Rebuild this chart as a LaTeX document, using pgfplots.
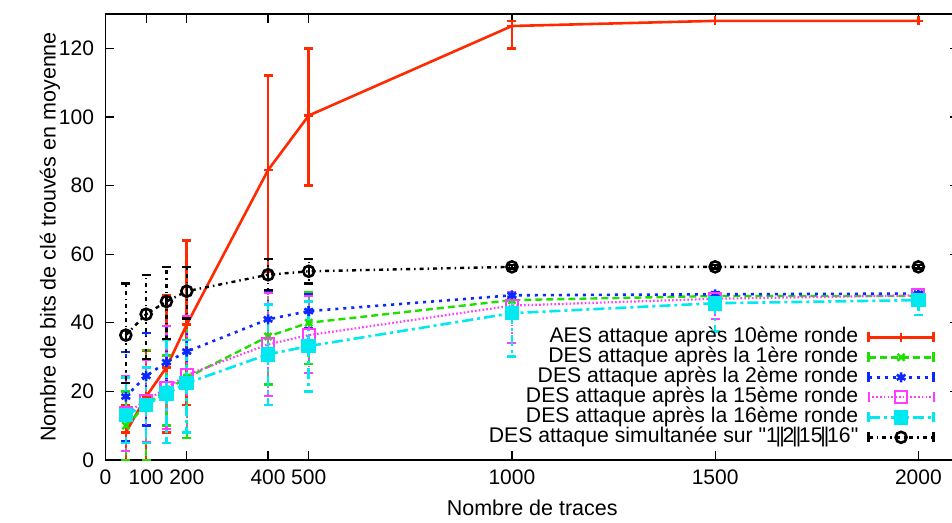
\documentclass[border=0pt]{standalone}
\usepackage{fontspec}
\setmainfont{Liberation Sans}
\newfontfamily\nomap{Liberation Sans}
\usepackage{pgfplots}
\pgfplotsset{compat=1.18}
\usepackage{pgfplotstable}

\definecolor{cRed}{HTML}{FF2A00}
\definecolor{cGreen}{HTML}{1EE000}
\definecolor{cBlue}{HTML}{0A28FF}
\definecolor{cMag}{HTML}{FF3CFF}
\definecolor{cCyan}{HTML}{00E8F0}

\pgfplotstableread{
x y ep em
50 8 8 8
100 18.5 13.5 18.5
150 27 21 19
200 39.5 24.5 23.5
400 84.5 27.5 29.5
500 100.4 19.6 20.4
1000 126.5 1.5 6.5
1500 128 0 0
2000 128 0 0
}\aes

\pgfplotstableread{
x y ep em
50 10 10 10
100 16 16 16
150 20.5 10 10.5
200 24 18 17.5
400 36 13 14
500 40 9 12
1000 46.6 2 3
1500 47.8 1 1
2000 47.8 1 1
}\desA

\pgfplotstableread{
x y ep em
50 18.5 13 13
100 24.5 12.5 14.5
150 28.5 10.5 11
200 31.6 10.4 10.6
400 41 8 9
500 43.4 5 5
1000 48 1 1
1500 48.3 0.5 0.5
2000 48.5 0.5 0.5
}\desB

\pgfplotstableread{
x y ep em
50 13.6 11 11
100 17.3 12 12
150 21 18 12
200 24.8 17 17
400 33.7 15 15
500 36.4 11.5 11
1000 45 4 11
1500 47 1.5 6
2000 48 1 1.5
}\desC

\pgfplotstableread{
x y ep em
50 13.1 11 8.2
100 16 11 11
150 19.4 15.6 14.5
200 22.4 12.6 14.4
400 30.8 14.5 14.8
500 33.2 13 13.3
1000 42.8 5 12.7
1500 45.7 2 8.3
2000 46.6 1.5 4.3
}\desD

\pgfplotstableread{
x y ep em
50 36.4 15 14
100 42.5 11.5 13
150 46.2 10 11
200 49.2 7 8
400 54 4.5 4.5
500 55 3.5 3.5
1000 56.3 0.5 0.5
1500 56.3 0.5 0.5
2000 56.3 0.5 0.5
}\sim

\newcommand{\pp}{\kern-2.3bp|\kern-1.8bp|\kern-2.3bp}

\begin{document}
\begin{tikzpicture}
\begin{axis}[
  scale only axis,
  width=853.5bp, height=446bp,
  xmin=0, xmax=2100, ymin=0, ymax=130,
  xtick={0,100,200,400,500,1000,1500,2000},
  ytick={0,20,40,60,80,100,120},
  tick align=inside,
  major tick length=9bp,
  axis line style={line width=1.6bp},
  every tick/.style={black, line width=1.2bp},
  /pgf/number format/assume math mode=true,
  /pgf/number format/set thousands separator={},
  tick label style={font=\fontsize{21bp}{25bp}\selectfont},
  xticklabel shift=6bp,
  yticklabel shift=8bp,
  label style={font=\fontsize{21.5bp}{25bp}\selectfont},
  xlabel style={yshift=-9bp},
  ylabel style={yshift=-8bp},
  xlabel={Nombre de traces},
  ylabel={Nombre de bits de clé trouvés en moyenne},
  legend cell align=right,
  legend plot pos=right,
  legend style={draw=none, fill=none, at={(rel axis cs:0.972,0.028)}, anchor=south east,
    font=\fontsize{21.2bp}{25bp}\selectfont, row sep=0bp, column sep=8bp, inner sep=0pt,
    nodes={inner sep=1bp, text height=14bp, text depth=4bp}},
  legend image code/.code={
    \draw[mark repeat=2,mark phase=2,#1] plot coordinates {(0bp,0bp)(32.5bp,0bp)(65bp,0bp)};
    \draw[#1,solid] (0bp,-5bp)--(0bp,5bp) (65bp,-5bp)--(65bp,5bp);
  },
]
\coordinate (O) at (rel axis cs:0,0);

\addplot[color=cRed, line width=2.6bp, mark=+, mark size=4.5bp, mark options={solid},
  error bars/.cd, y dir=both, y explicit, error bar style={line width=2.6bp},
  error mark options={rotate=90, solid, mark size=4.5bp, line width=2.6bp}]
  table[x=x,y=y,y error plus=ep,y error minus=em]{\aes};
\addlegendentry{AES attaque après 10ème ronde}

\addplot[color=cGreen, line width=2.4bp, dash pattern=on 7bp off 4bp, mark=x, mark size=5bp, mark options={solid},
  error bars/.cd, y dir=both, y explicit, error bar style={line width=2.4bp, dash pattern=on 7bp off 4bp},
  error mark options={rotate=90, solid, mark size=4.5bp, line width=2.4bp}]
  table[x=x,y=y,y error plus=ep,y error minus=em]{\desA};
\addlegendentry{DES attaque après la 1ère ronde}

\addplot[color=cBlue, line width=2.6bp, dash pattern=on 3bp off 5bp, mark=asterisk, mark size=5bp, mark options={solid},
  error bars/.cd, y dir=both, y explicit, error bar style={line width=2.4bp, dash pattern=on 3bp off 5bp},
  error mark options={rotate=90, solid, mark size=4.5bp, line width=2.4bp}]
  table[x=x,y=y,y error plus=ep,y error minus=em]{\desB};
\addlegendentry{DES attaque après la 2ème ronde}

\addplot[color=cMag, line width=2.2bp, dash pattern=on 1.6bp off 2.2bp, mark=square, mark size=6bp, mark options={solid},
  error bars/.cd, y dir=both, y explicit, error bar style={line width=2.2bp, dash pattern=on 1.6bp off 2.2bp},
  error mark options={rotate=90, solid, mark size=4.5bp, line width=2.2bp}]
  table[x=x,y=y,y error plus=ep,y error minus=em]{\desC};
\addlegendentry{DES attaque après la 15ème ronde}

\addplot[color=cCyan, line width=2.6bp, dash pattern=on 11bp off 4bp on 3bp off 4bp, mark=square*, mark size=6bp, mark options={solid},
  error bars/.cd, y dir=both, y explicit, error bar style={line width=2.6bp, dash pattern=on 11bp off 4bp on 3bp off 4bp},
  error mark options={rotate=90, solid, mark size=4.5bp, line width=2.6bp}]
  table[x=x,y=y,y error plus=ep,y error minus=em]{\desD};
\addlegendentry{DES attaque après la 16ème ronde}

\addplot[color=black, line width=2.4bp, dash pattern=on 4bp off 4bp on 1.5bp off 4bp, mark=o, mark size=5.5bp, mark options={solid, line width=2.6bp},
  error bars/.cd, y dir=both, y explicit, error bar style={line width=2.4bp, dash pattern=on 4bp off 4bp on 1.5bp off 4bp},
  error mark options={rotate=90, solid, mark size=4.5bp, line width=2.4bp}]
  table[x=x,y=y,y error plus=ep,y error minus=em]{\sim};
\addlegendentry{DES attaque simultanée sur {\nomap "1\pp 2\pp 15\pp 16"}}
\end{axis}
\pgfresetboundingbox
\useasboundingbox ([shift={(-105.5bp,-63bp)}]O) rectangle ([shift={(846.5bp,460bp)}]O);
\end{tikzpicture}
\end{document}
